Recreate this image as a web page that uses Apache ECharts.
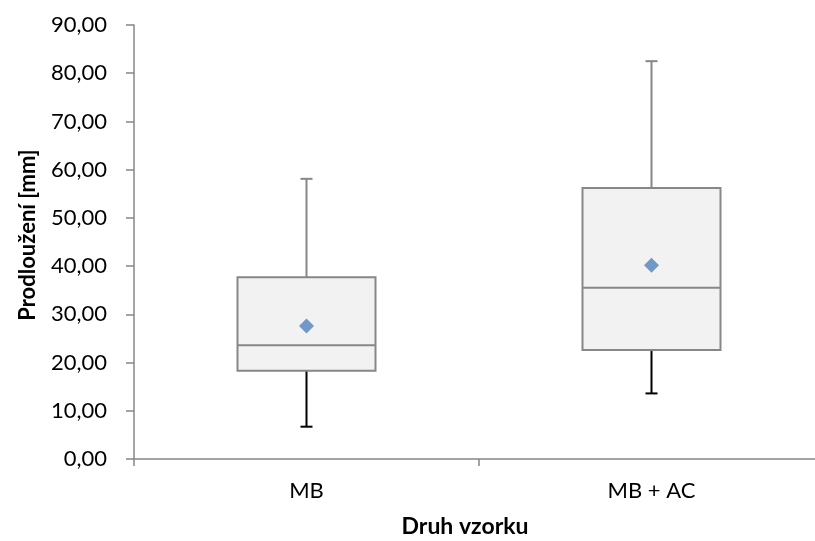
<!DOCTYPE html>
<html>
<head>
<meta charset="utf-8">
<script src="https://cdn.jsdelivr.net/npm/echarts@6/dist/echarts.min.js"></script>
<style>html,body{margin:0;padding:0;background:#fff}#c{width:815px;height:541px}</style>
</head>
<body>
<div id="c"></div>
<script>
const categories = ['MB', 'MB + AC'];
const minVals = [6.7, 13.6];
const q1Vals = [18.3, 22.6];
const medianVals = [23.6, 35.5];
const q3Vals = [37.7, 56.2];
const maxVals = [58.1, 82.5];
const meanVals = [27.6, 40.2];

const boxData = categories.map((c, i) => [i, minVals[i], q1Vals[i], medianVals[i], q3Vals[i], maxVals[i]]);
const meanData = categories.map((c, i) => [i, meanVals[i]]);

const gray = '#878787';
const font = 'Lato, "Open Sans", sans-serif';

function renderBox(params, api) {
  const idx = api.value(0);
  const band = api.size([1, 0])[0];
  const bw = band * 0.4;
  const cap = 12;
  const pMin = api.coord([idx, api.value(1)]);
  const pQ1 = api.coord([idx, api.value(2)]);
  const pMed = api.coord([idx, api.value(3)]);
  const pQ3 = api.coord([idx, api.value(4)]);
  const pMax = api.coord([idx, api.value(5)]);
  const x = pQ1[0];
  return {
    type: 'group',
    children: [
      { type: 'line', shape: { x1: x, y1: pQ3[1], x2: x, y2: pMax[1] }, style: { stroke: gray, lineWidth: 2 } },
      { type: 'line', shape: { x1: x - cap / 2, y1: pMax[1], x2: x + cap / 2, y2: pMax[1] }, style: { stroke: gray, lineWidth: 2 } },
      { type: 'line', shape: { x1: x, y1: pQ1[1], x2: x, y2: pMin[1] }, style: { stroke: '#000', lineWidth: 2 } },
      { type: 'line', shape: { x1: x - cap / 2, y1: pMin[1], x2: x + cap / 2, y2: pMin[1] }, style: { stroke: '#000', lineWidth: 2 } },
      { type: 'rect', shape: { x: x - bw / 2, y: pQ3[1], width: bw, height: pQ1[1] - pQ3[1] }, style: { fill: '#f2f2f2', stroke: gray, lineWidth: 2 } },
      { type: 'line', shape: { x1: x - bw / 2, y1: pMed[1], x2: x + bw / 2, y2: pMed[1] }, style: { stroke: gray, lineWidth: 2 } }
    ]
  };
}

const chart = echarts.init(document.getElementById('c'), null, { renderer: 'canvas' });
chart.setOption({
  animation: false,
  backgroundColor: '#fff',
  grid: { left: 134, top: 25, width: 690, height: 434, containLabel: false, outerBoundsMode: 'none' },
  xAxis: {
    type: 'category',
    data: categories,
    boundaryGap: true,
    axisLine: { lineStyle: { color: gray, width: 1.5 } },
    axisTick: { show: true, length: 7, lineStyle: { color: gray, width: 1.5 } },
    axisLabel: { color: '#000', fontSize: 22, fontFamily: font, margin: 21 },
    name: 'Druh vzorku',
    nameLocation: 'middle',
    nameGap: 56,
    nameTextStyle: { color: '#000', fontSize: 23, fontWeight: 'bold', fontFamily: font, padding: [0, 28, 0, 0] },
    splitLine: { show: false }
  },
  yAxis: {
    type: 'value',
    min: 0,
    max: 90,
    interval: 10,
    axisLine: { show: true, lineStyle: { color: gray, width: 1.5 } },
    axisTick: { show: true, length: 8, lineStyle: { color: gray, width: 1.5 } },
    axisLabel: {
      color: '#000', fontSize: 22, fontFamily: font, margin: 27,
      formatter: v => v.toFixed(2).replace('.', ',')
    },
    splitLine: { show: false },
    name: 'Prodloužení [mm]',
    nameLocation: 'middle',
    nameGap: 95,
    nameTextStyle: { color: '#000', fontSize: 22, fontWeight: 'bold', fontFamily: font, padding: [0, 0, 0, 14] }
  },
  series: [
    {
      type: 'custom',
      renderItem: renderBox,
      data: boxData,
      encode: { x: 0, y: [1, 2, 3, 4, 5] },
      z: 2
    },
    {
      type: 'scatter',
      data: meanData,
      symbol: 'diamond',
      symbolSize: 15,
      itemStyle: { color: '#4f81bd' },
      z: 3
    }
  ]
});
</script>
</body>
</html>
